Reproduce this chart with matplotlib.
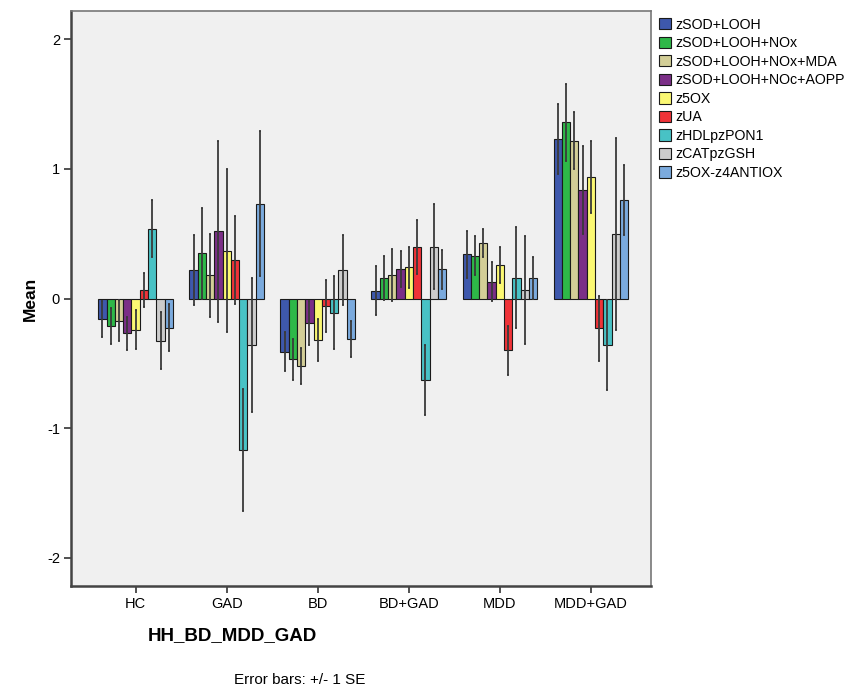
import numpy as np
import matplotlib
matplotlib.use("Agg")
import matplotlib.pyplot as plt

plt.rcParams['font.family'] = ['Liberation Sans', 'DejaVu Sans']

groups = ['HC', 'GAD', 'BD', 'BD+GAD', 'MDD', 'MDD+GAD']
series = ['zSOD+LOOH', 'zSOD+LOOH+NOx', 'zSOD+LOOH+NOx+MDA', 'zSOD+LOOH+NOc+AOPP',
          'z5OX', 'zUA', 'zHDLpzPON1', 'zCATpzGSH', 'z5OX-z4ANTIOX']
colors = ['#3E58AC', '#2EB848', '#D3CE97', '#7B2F87', '#FBF873',
          '#EF3338', '#48C2C5', '#CCCCCC', '#7BAADD']

# means per series, one value per group (HC, GAD, BD, BD+GAD, MDD, MDD+GAD)
means = [
    [-0.16, 0.22, -0.41, 0.06, 0.34, 1.23],
    [-0.21, 0.35, -0.47, 0.16, 0.33, 1.36],
    [-0.17, 0.18, -0.52, 0.18, 0.43, 1.22],
    [-0.27, 0.52, -0.19, 0.23, 0.13, 0.84],
    [-0.24, 0.37, -0.32, 0.24, 0.26, 0.94],
    [0.065, 0.30, -0.06, 0.40, -0.40, -0.23],
    [0.54, -1.17, -0.11, -0.63, 0.16, -0.36],
    [-0.325, -0.36, 0.22, 0.40, 0.065, 0.50],
    [-0.225, 0.73, -0.31, 0.225, 0.16, 0.76],
]
# standard errors
ses = [
    [0.14, 0.27, 0.15, 0.19, 0.18, 0.27],
    [0.14, 0.35, 0.16, 0.17, 0.15, 0.30],
    [0.16, 0.32, 0.14, 0.20, 0.11, 0.22],
    [0.13, 0.70, 0.17, 0.14, 0.15, 0.34],
    [0.15, 0.63, 0.16, 0.16, 0.14, 0.28],
    [0.13, 0.34, 0.20, 0.21, 0.19, 0.25],
    [0.22, 0.47, 0.28, 0.27, 0.39, 0.35],
    [0.22, 0.52, 0.27, 0.33, 0.42, 0.74],
    [0.18, 0.56, 0.14, 0.15, 0.16, 0.27],
]

fig = plt.figure(figsize=(8.61, 6.95), dpi=100)
ax = fig.add_axes([71/861, 1 - 586/695, (651-71)/861, (586-11)/695])
ax.set_facecolor('#F0F0F0')

x = np.arange(len(groups))
n = len(series)
w = 0.82 / n
for i in range(n):
    pos = x - 0.41 + w * (i + 0.5)
    ax.bar(pos, means[i], w, color=colors[i], edgecolor='#1a1a1a', linewidth=0.8,
           label=series[i], zorder=2)
    ax.errorbar(pos, means[i], yerr=ses[i], fmt='none', ecolor='#3a3a3a',
                elinewidth=1.3, capsize=1.0, capthick=1.3, zorder=3)

ax.set_xlim(-0.71, 5.66)
ax.set_ylim(-2.22, 2.22)
ax.set_yticks([-2, -1, 0, 1, 2])
ax.set_yticklabels(['-2', '-1', '0', '1', '2'])
ax.set_xticks(x)
ax.set_xticklabels(groups)
ax.tick_params(axis='both', labelsize=10.5, length=5, width=1.2, color='#333333', pad=3)
for side in ['top', 'right']:
    ax.spines[side].set_color('#777777')
    ax.spines[side].set_linewidth(1.2)
for side in ['left', 'bottom']:
    ax.spines[side].set_color('#444444')
    ax.spines[side].set_linewidth(1.8)

fig.text(30/861, 1 - 299/695, 'Mean', rotation=90, fontsize=12.5, fontweight='bold',
         ha='center', va='center')
fig.text(232/861, 1 - 636/695, 'HH_BD_MDD_GAD', fontsize=13.5, fontweight='bold',
         ha='center', va='center')
fig.text(300/861, 1 - 680/695, 'Error bars: +/- 1 SE', fontsize=11,
         ha='center', va='center')

fig.legend(loc='upper left', bbox_to_anchor=(653/861, 1 - 12/695), frameon=False,
           fontsize=10.2, handlelength=0.85, handleheight=0.85, handletextpad=0.3,
           labelspacing=0.32, borderaxespad=0)

fig.savefig('out.png', dpi=100)
